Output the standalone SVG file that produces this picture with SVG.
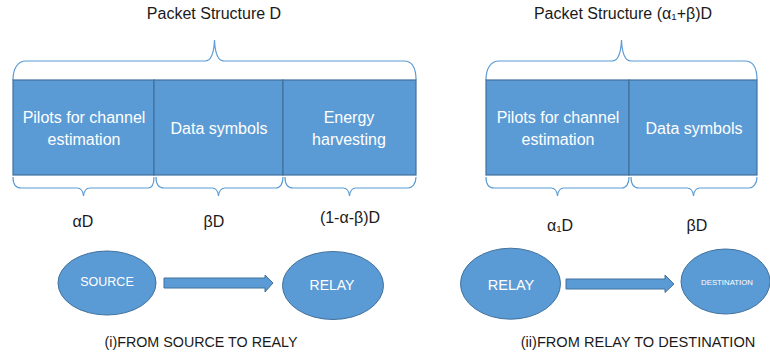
<svg xmlns="http://www.w3.org/2000/svg" width="770" height="356" viewBox="0 0 770 356">
  <style>
    .seg { fill: #5B9BD5; stroke: #41719C; stroke-width: 1.2; }
    .brace { fill: none; stroke: #5B9BD5; stroke-width: 1.2; }
    .node { fill: #5B9BD5; stroke: #41719C; stroke-width: 1; }
    .wt { fill: #FFFFFF; font-family: "Liberation Sans", Arial, sans-serif; text-anchor: middle; }
    .bk { fill: #1A1A1A; font-family: "Liberation Sans", Arial, sans-serif; text-anchor: middle; }
  </style>
  <rect width="770" height="356" fill="#FFFFFF"/>

  <!-- Left panel: source to relay packet -->
  <g id="packet-left">
    <text class="bk" x="214" y="19" font-size="16">Packet Structure D</text>
    <path class="brace" d="M13,80 C13,68 18,61 26,61 L205,61 C211,61 214,52 214.5,40 C215,52 218,61 224,61 L404,61 C412,61 416,68 416,80"/>
    <rect class="seg" x="13" y="80" width="141" height="95"/>
    <rect class="seg" x="154" y="80" width="129" height="95"/>
    <rect class="seg" x="283" y="80" width="133" height="95"/>
    <text class="wt" x="84" y="123" font-size="16">Pilots for channel</text>
    <text class="wt" x="84" y="145" font-size="16">estimation</text>
    <text class="wt" x="219" y="134" font-size="16">Data symbols</text>
    <text class="wt" x="349" y="123" font-size="16">Energy</text>
    <text class="wt" x="349" y="145" font-size="16">harvesting</text>
    <path class="brace" d="M13,177 C13,184 16,188 21,188 L77,188 C81,188 83,191 83.5,196 C84,191 86,188 90,188 L148,188 C152,188 154,184 154,177"/>
    <path class="brace" d="M156,177 C156,184 159,188 164,188 L212,188 C216,188 218,191 218.5,196 C219,191 221,188 225,188 L276,188 C280,188 283,184 283,177"/>
    <path class="brace" d="M285,177 C285,184 288,188 293,188 L343,188 C347,188 349,191 349.5,196 C350,191 352,188 356,188 L408,188 C412,188 416,184 416,177"/>
    <text class="bk" x="83" y="227" font-size="16">αD</text>
    <text class="bk" x="214" y="227" font-size="16">βD</text>
    <text class="bk" x="350" y="223" font-size="16">(1-α-β)D</text>
  </g>

  <!-- Right panel: relay to destination packet -->
  <g id="packet-right">
    <text class="bk" x="623" y="19" font-size="16">Packet Structure (α₁+β)D</text>
    <path class="brace" d="M486,80 C486,68 491,61 499,61 L612,61 C618,61 621,52 621.5,40 C622,52 625,61 631,61 L745,61 C753,61 757,68 757,80"/>
    <rect class="seg" x="486" y="80" width="143" height="95"/>
    <rect class="seg" x="629" y="80" width="128" height="95"/>
    <text class="wt" x="558" y="123" font-size="16">Pilots for channel</text>
    <text class="wt" x="558" y="145" font-size="16">estimation</text>
    <text class="wt" x="694" y="134" font-size="16">Data symbols</text>
    <path class="brace" d="M486,177 C486,184 489,188 494,188 L551,188 C555,188 557,191 557.5,196 C558,191 560,188 564,188 L622,188 C626,188 629,184 629,177"/>
    <path class="brace" d="M631,177 C631,184 634,188 639,188 L687,188 C691,188 693,191 693.5,196 C694,191 696,188 700,188 L749,188 C753,188 757,184 757,177"/>
    <text class="bk" x="560" y="231" font-size="16">α₁D</text>
    <text class="bk" x="697" y="231" font-size="16">βD</text>
  </g>

  <!-- Nodes -->
  <g id="source">
    <ellipse class="node" cx="107" cy="283" rx="49" ry="32"/>
    <text class="wt" x="107" y="286" font-size="12.5">SOURCE</text>
  </g>
  <g id="relay-1">
    <ellipse class="node" cx="333" cy="285.5" rx="50.5" ry="34"/>
    <text class="wt" x="332" y="289.5" font-size="14">RELAY</text>
  </g>
  <g id="relay-2">
    <ellipse class="node" cx="510.5" cy="283.7" rx="50" ry="35.5"/>
    <text class="wt" x="511" y="290" font-size="14.5">RELAY</text>
  </g>
  <g id="destination">
    <ellipse class="node" cx="725.5" cy="281.5" rx="44.5" ry="32.5"/>
    <text class="wt" x="727" y="285" font-size="7.8">DESTINATION</text>
  </g>

  <!-- Connectors: block arrows between nodes -->
  <g id="connectors">
    <path class="node" d="M164,278 L265,278 L265,275 L273,283 L265,292 L265,288 L164,288 Z"/>
    <path class="node" d="M566,279 L665,279 L665,275 L674,284 L665,292.5 L665,289 L566,289 Z"/>
  </g>

  <!-- Captions -->
  <text class="bk" x="201" y="347" font-size="14.3">(i)FROM SOURCE TO REALY</text>
  <text class="bk" x="638" y="347" font-size="14.6">(ii)FROM RELAY TO DESTINATION</text>
</svg>
